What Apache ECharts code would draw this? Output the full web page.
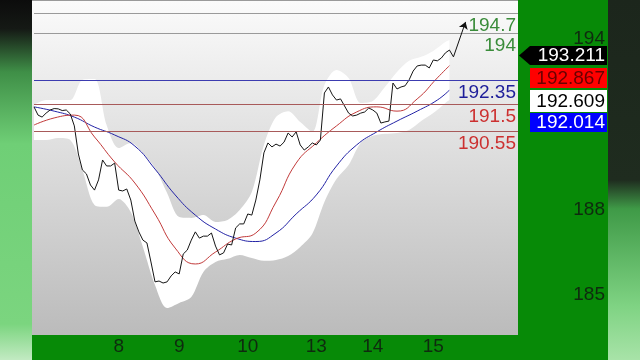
<!DOCTYPE html>
<html><head><meta charset="utf-8">
<script src="https://cdn.jsdelivr.net/npm/echarts@6/dist/echarts.min.js"></script>
<style>html,body{margin:0;padding:0;background:#078a07}#c{width:640px;height:360px}</style>
</head><body><div id="c"></div>
<script>
// ---- data ----
const closePrices = [191.40,191.11,191.04,191.18,191.29,191.34,191.33,191.27,191.29,191.15,
 190.73,189.74,189.18,189.04,188.65,188.47,188.83,189.53,189.32,189.32,
 189.42,188.47,188.44,188.51,188.12,187.38,187.00,186.71,186.61,185.94,
 185.24,185.27,185.20,185.24,185.45,185.59,185.52,186.22,186.36,186.71,
 187.00,186.78,186.85,186.85,186.96,186.50,186.19,186.26,186.57,186.54,
 187.14,187.28,187.28,187.63,187.59,188.12,188.83,189.78,190.13,189.99,
 190.09,190.02,190.16,190.48,190.34,190.52,190.06,189.88,189.99,190.13,
 190.06,190.23,191.89,192.10,191.82,191.64,191.68,191.43,191.18,191.08,
 191.11,191.18,191.22,191.36,191.29,191.18,190.83,190.87,190.90,192.24,
 192.03,192.10,192.14,192.35,192.66,192.84,192.87,192.87,192.77,193.05,
 193.02,193.12,193.30,193.40,193.16];
const arrowIdx = [104, 107];
const arrowVal = [193.16, 194.39];

const maIdx = [0,5,10,15,20,25,30,35,40,45,50,55,60,65,70,75,80,85,90,95,100,103];
const redMA = [190.76,191.01,191.11,190.34,189.46,188.72,187.63,186.43,185.87,186.29,186.75,186.96,188.05,189.42,190.13,190.73,191.22,191.40,191.25,191.68,192.42,192.85];
const blueMA = [191.40,191.25,191.04,190.69,190.41,190.02,189.21,188.30,187.59,187.10,186.78,186.66,186.96,187.63,188.30,189.32,190.06,190.52,190.90,191.25,191.64,191.99];

const bandIdx = [0,3,6,9,12,15,18,21,24,27,30,33,36,39,42,45,48,51,54,57,60,63,66,69,72,75,78,81,84,87,90,93,96,99,102,103];
const bandUpper = [191.47,191.64,191.64,191.64,192.35,192.38,190.76,189.95,190.13,189.78,
 189.25,188.37,187.52,187.49,187.59,187.35,187.42,187.77,188.40,190.06,
 191.04,191.25,190.87,190.52,192.17,192.70,192.42,191.54,191.61,192.10,
 192.63,193.02,193.16,193.37,193.68,193.75];
const bandLower = [190.23,190.23,190.30,190.23,189.18,187.95,187.88,188.16,187.70,186.47,
 185.13,184.32,184.50,184.71,185.59,185.94,186.05,186.19,186.08,185.98,
 186.01,186.15,186.47,186.93,188.05,188.86,189.35,190.13,190.38,190.45,
 190.48,190.59,190.90,191.18,191.54,191.64];

const slotCount = 121;
const dayTickIdx = [21,36,53,70,84,99];
const dayTickLabels = ['8','9','10','13','14','15'];

const levelValues = [194.7, 194, 192.35, 191.5, 190.55];
const levelLabels = ['194.7','194','192.35','191.5','190.55'];
const yTickShown = [194, 188, 185];
const tagValues = [193.211, 192.867, 192.609, 192.014];

// ---- chart ----
const FONT = "'Liberation Sans', Arial, sans-serif";
const cats = Array.from({length: slotCount}, (_, i) => String(i));
const tickMap = {};
dayTickIdx.forEach((k, j) => tickMap[k] = dayTickLabels[j]);

const levelStyles = [
  {line:'#9a9a9a', text:'#3a8c3a'},
  {line:'#9a9a9a', text:'#3a8c3a'},
  {line:'#3c3cb0', text:'#1e1e9a'},
  {line:'#a85a5a', text:'#cc3030'},
  {line:'#a85a5a', text:'#cc3030'}
];
const markData = levelValues.map((v, k) => ({
  yAxis: v,
  lineStyle: {color: levelStyles[k].line, width: 1, type: 'solid'},
  label: {show: true, position: 'insideEndBottom', formatter: levelLabels[k],
          color: levelStyles[k].text, fontSize: 19, fontFamily: FONT, distance: [2, 3]}
}));
markData.push([
  {coord: [arrowIdx[0], arrowVal[0]], symbol: 'none', lineStyle: {color:'#111', width:1, type:'solid'}, label:{show:false}},
  {coord: [arrowIdx[1], arrowVal[1]], symbol: 'arrow', symbolSize: 7}
]);

const pairs = (idx, vals) => idx.map((k, j) => [k, vals[j]]);
const bandDiff = bandUpper.map((u, j) => +(u - bandLower[j]).toFixed(2));

const tagY = [46, 68, 90, 113];
const tagH = [19, 20, 22, 19];
const tagFill = ['#000000', '#ff0000', '#ffffff', '#0000ff'];
const tagText = ['#ffffff', '#6a0000', '#000000', '#ffffff'];
const graphics = [
  {type:'rect', z:-10, shape:{x:0, y:0, width:32, height:360},
   style:{fill:{type:'linear', x:0, y:0, x2:0, y2:1, colorStops:[
     {offset:0, color:'#0c0c0c'}, {offset:0.08, color:'#151915'}, {offset:0.2, color:'#3f8f47'},
     {offset:0.4, color:'#6fcf76'}, {offset:0.9, color:'#7bd57f'}, {offset:1, color:'#c2eac2'}]}}},
  {type:'rect', z:-10, shape:{x:608, y:0, width:32, height:360},
   style:{fill:{type:'linear', x:0, y:0, x2:0, y2:1, colorStops:[
     {offset:0, color:'#1c261c'}, {offset:0.5, color:'#1f2c1f'}, {offset:0.58, color:'#3f9a47'},
     {offset:0.85, color:'#7fd383'}, {offset:1, color:'#a8e3a8'}]}}},
  {type:'rect', z:-10, shape:{x:32, y:0, width:486, height:335},
   style:{fill:{type:'linear', x:0, y:0, x2:0, y2:1, colorStops:[
     {offset:0, color:'#fbfbfb'}, {offset:1, color:'#bbbbbb'}]}}},
  {type:'line', z:-9, shape:{x1:32, y1:0.5, x2:518, y2:0.5}, style:{stroke:'#9a9a9a', lineWidth:1}},
  {type:'polygon', z:100, shape:{points:[[519,55.5],[530,46],[607,46],[607,65],[530,65]]}, style:{fill:'#000'}}
];
tagValues.forEach((v, k) => {
  if (k > 0) graphics.push({type:'rect', z:100, shape:{x:530, y:tagY[k], width:77, height:tagH[k]}, style:{fill:tagFill[k]}});
  graphics.push({type:'text', z:101, style:{x:605, y:tagY[k] + tagH[k]/2 + 0.5, text:v.toFixed(3), fill:tagText[k],
    font:'19px ' + FONT, textAlign:'right', textVerticalAlign:'middle'}});
});

const chart = echarts.init(document.getElementById('c'), null, {renderer:'canvas'});
chart.setOption({
  animation: false,
  backgroundColor: '#078a07',
  graphic: graphics,
  grid: {left: 34, right: 122, top: 4.59, bottom: 14.49, containLabel: false},
  xAxis: {
    type: 'category', data: cats, boundaryGap: false, offset: -10,
    axisLine: {show:false}, axisTick: {show:false}, splitLine: {show:false},
    axisLabel: {interval: 0, margin: 2, color: '#0f2a0f', fontSize: 19, fontFamily: FONT,
      formatter: (val, i) => tickMap[i] || ''}
  },
  yAxis: {
    type: 'value', position: 'right', min: 183, max: 195, interval: 1,
    axisLine: {show:false}, axisTick: {show:false}, splitLine: {show:false},
    axisLabel: {align: 'right', verticalAlign: 'top', lineHeight: 12, margin: 87, color: '#0f2a0f',
      fontSize: 19, fontFamily: FONT,
      formatter: v => yTickShown.includes(v) ? String(v) : ''}
  },
  series: [
    {type:'line', name:'bandLow', data: pairs(bandIdx, bandLower), stack:'band', smooth:0.3,
     symbol:'none', lineStyle:{opacity:0}, silent:true, z:1},
    {type:'line', name:'band', data: pairs(bandIdx, bandDiff), stack:'band', smooth:0.3,
     symbol:'none', lineStyle:{opacity:0}, areaStyle:{color:'#ffffff', opacity:1}, silent:true, z:1},
    {type:'line', name:'slow', data: pairs(maIdx, blueMA), smooth:0.5, symbol:'none',
     lineStyle:{color:'#2323a6', width:1}, z:3},
    {type:'line', name:'fast', data: pairs(maIdx, redMA), smooth:0.5, symbol:'none',
     lineStyle:{color:'#c23a3a', width:1}, z:3},
    {type:'line', name:'price', data: closePrices.map((v, i) => [i, v]), symbol:'none',
     lineStyle:{color:'#151515', width:1}, z:4,
     markLine:{silent:true, symbol:['none','none'], animation:false, data: markData}}
  ]
});
</script></body></html>
